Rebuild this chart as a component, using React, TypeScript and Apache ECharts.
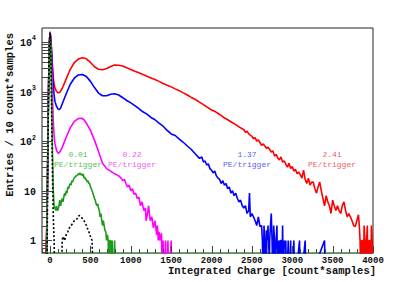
import React, { useEffect, useRef } from "react";
import * as echarts from "echarts";

// empty bin (plotted below the axis floor, so it is clipped like a zero bin in ROOT)
const E = 0.1;

const X_MIN = -100;
const X_MAX = 4000;
const Y_MIN = 0.56;
const Y_MAX = 19000;

const xTickLabels = [0, 500, 1000, 1500, 2000, 2500, 3000, 3500, 4000];
const yTickLabels = [1, 10, 100, 1000, 10000];

const redData: number[][] = [
  [-100, E], [-60, E], [-50, 1], [-40, 2], [-30, 40], [-20, 900], [-10, 9000], [0, 16000], [10, 12000], [20, 6500],
  [30, 3200], [40, 1900], [50, 1400], [60, 1180], [80, 1000], [100, 940], [120, 960], [150, 1150], [200, 1800],
  [250, 2800], [300, 3800], [350, 4500], [400, 4800], [450, 4550], [500, 3850], [550, 3150], [600, 2800], [650, 2750],
  [700, 2900], [750, 3200], [800, 3400], [850, 3380], [900, 3250], [950, 3000], [1000, 2780], [1050, 2560],
  [1100, 2380], [1150, 2200], [1200, 2020], [1250, 1880], [1300, 1750], [1350, 1600], [1400, 1450], [1450, 1340],
  [1500, 1240], [1550, 1130], [1600, 1040], [1650, 940], [1700, 850], [1750, 760], [1800, 690], [1850, 610],
  [1900, 545], [1950, 480], [2000, 425], [2050, 390], [2100, 345], [2150, 300], [2200, 270], [2250, 240],
  [2300, 215], [2350, 190], [2400, 170], [2420, 150], [2440, 160], [2460, 140], [2480, 132], [2500, 125],
  [2520, 112], [2540, 118], [2560, 100], [2580, 106], [2600, 94], [2620, 82], [2640, 88], [2660, 80], [2680, 72],
  [2700, 76], [2720, 68], [2740, 60], [2760, 64], [2780, 50], [2800, 54], [2820, 46], [2840, 42], [2860, 48],
  [2880, 38], [2900, 40], [2920, 34], [2940, 30], [2960, 36], [2980, 28], [3000, 31], [3020, 25], [3040, 27],
  [3060, 22], [3080, 24], [3100, 21], [3120, 18], [3140, 26], [3160, 17], [3180, 14], [3200, 18], [3220, 13],
  [3240, 15], [3260, 15], [3280, 11], [3300, 9], [3320, 12], [3340, 15], [3360, 10], [3380, 7], [3400, 5],
  [3420, 8], [3440, 6], [3460, 5], [3480, 3.5], [3500, 6.5], [3520, 5], [3540, 4], [3560, 5], [3580, 4],
  [3600, 3.5], [3620, 5], [3640, 6], [3660, 4], [3680, 3], [3700, 3.5], [3720, 3], [3740, 2.5], [3760, 2],
  [3780, 1.9], [3800, 2.5], [3820, 3.3], [3830, 2], [3840, 1], [3850, E], [3860, 1], [3870, 1], [3880, E],
  [3890, 2], [3900, 1], [3910, E], [3920, 1], [3930, 2], [3940, E], [3950, 1], [3960, 1], [3970, E], [3980, 2],
  [3990, 1], [4000, E],
];

const blueData: number[][] = [
  [-100, E], [-50, E], [-40, 1], [-30, 30], [-20, 800], [-10, 8500], [0, 15500], [10, 11000], [20, 5500],
  [30, 2500], [40, 1300], [50, 850], [60, 640], [80, 500], [100, 440], [115, 435], [130, 460], [150, 560],
  [200, 900], [250, 1400], [300, 1850], [350, 2150], [400, 2200], [450, 2000], [500, 1600], [550, 1200],
  [600, 930], [650, 820], [700, 820], [750, 880], [800, 900], [850, 850], [900, 750], [950, 660], [1000, 590],
  [1050, 520], [1100, 450], [1150, 390], [1200, 350], [1250, 300], [1300, 270], [1350, 230], [1400, 200],
  [1450, 165], [1500, 140], [1550, 130], [1600, 110], [1650, 95], [1700, 80], [1750, 68], [1800, 55],
  [1850, 45], [1880, 48], [1900, 38], [1920, 40], [1940, 33], [1960, 35], [1980, 28], [2000, 26], [2020, 23],
  [2040, 25], [2060, 20], [2080, 18], [2100, 17], [2120, 14], [2140, 16], [2160, 13], [2180, 14], [2200, 11],
  [2220, 12], [2240, 9], [2260, 10], [2280, 8], [2300, 9], [2320, 7], [2340, 6], [2360, 6.5], [2380, 5],
  [2400, 4.5], [2420, 5], [2440, 3.5], [2460, 4], [2470, 9], [2480, 3], [2500, 3.5], [2520, 3], [2540, 2.5],
  [2560, 2], [2580, 3], [2600, 1.9], [2620, 2], [2630, 1], [2640, E], [2650, 2], [2660, 1], [2670, E],
  [2680, 1.6], [2690, 1], [2700, 2], [2710, E], [2720, 1], [2730, 2], [2740, 3.5], [2750, 1], [2760, E],
  [2770, 2], [2780, 1], [2790, E], [2800, 1], [2810, 2], [2820, E], [2830, 1], [2840, E], [2850, 1], [2860, 1],
  [2870, E], [2880, 2], [2890, E], [2900, 1], [2910, E], [2920, 1], [2930, E], [2950, 1], [2960, E], [2980, 1],
  [2990, E], [3020, 1], [3030, E], [3090, 1], [3100, E], [3160, 1], [3170, E], [3400, 1], [3410, E], [4000, E],
];

const magentaData: number[][] = [
  [-100, E], [-50, E], [-40, 1], [-30, 30], [-20, 900], [-10, 9000], [0, 15500], [10, 9000], [20, 3000],
  [30, 800], [40, 250], [50, 130], [60, 90], [80, 65], [100, 57], [120, 60], [150, 75], [200, 120], [250, 185],
  [300, 250], [350, 285], [390, 290], [420, 270], [450, 230], [500, 165], [550, 105], [600, 62], [650, 36],
  [700, 28], [750, 25], [800, 22], [850, 20], [880, 18], [900, 16], [920, 17], [940, 14], [960, 12], [980, 13],
  [1000, 10], [1020, 11], [1040, 8.5], [1060, 9], [1080, 7], [1100, 7.5], [1120, 5], [1140, 6], [1160, 4],
  [1180, 4.5], [1190, 2.5], [1200, 3], [1220, 5], [1240, 2.5], [1260, 3], [1280, 1.8], [1300, 2.5], [1320, 1.3],
  [1330, 2], [1340, 1], [1350, 1.5], [1360, 1], [1380, 1.4], [1390, E], [1400, 1], [1410, E], [1430, 1],
  [1440, E], [1460, 1], [1470, E], [1500, 1], [1510, E], [4000, E],
];

const greenData: number[][] = [
  [-100, E], [-50, E], [-40, 1], [-30, 30], [-20, 800], [-10, 9000], [0, 15000], [10, 6000], [20, 800],
  [30, 60], [40, 10], [50, 5], [60, 4.5], [70, 4], [80, 5], [90, 4], [100, 4.2], [110, 5], [120, 6.5], [130, 5],
  [140, 6], [150, 7], [160, 6], [170, 7.5], [180, 9], [190, 8], [200, 10], [210, 9], [220, 12], [230, 11],
  [240, 13], [250, 14], [260, 13], [270, 16], [280, 15], [290, 17], [300, 18], [310, 19], [320, 20], [330, 20],
  [340, 21], [350, 22], [360, 21], [370, 23], [380, 21], [390, 22], [400, 20], [410, 22], [420, 18], [430, 19],
  [440, 17], [450, 17], [460, 15], [470, 16], [480, 14], [490, 14], [500, 12], [510, 11], [520, 10], [530, 9],
  [540, 8], [550, 7], [560, 6.5], [570, 5.5], [580, 5], [590, 5.5], [600, 4.5], [610, 4], [620, 3], [630, 3.5],
  [640, 2.5], [650, 2], [660, 2.5], [670, 2], [680, 1.6], [690, 1.5], [700, 1], [710, 1.3], [720, 1], [730, E],
  [740, 1], [750, 1], [760, E], [770, 1], [780, E], [800, 1], [810, E], [4000, E],
];

const blackData: number[][] = [
  [-100, E], [-40, E], [-30, 20], [-20, 800], [-10, 8000], [0, 15000], [10, 5000], [20, 300], [30, 20],
  [40, 3], [50, 1], [60, E], [140, E], [150, 1], [160, 1.2], [180, 1], [200, 1.3], [220, 1.5], [240, 1.8],
  [260, 2], [280, 2.2], [300, 2.5], [320, 2.6], [340, 2.8], [360, 3.2], [380, 3], [400, 2.8], [420, 2.5],
  [440, 2.2], [460, 1.8], [480, 1.5], [500, 1.2], [520, 1], [540, E], [4000, E],
];

const annotations = [
  { rate: "0.01", color: "#55c255", x: 78 },
  { rate: "0.22", color: "#f060f0", x: 132 },
  { rate: "1.37", color: "#6060f0", x: 247 },
  { rate: "2.41", color: "#f06060", x: 332 },
];

const MONO = "'Liberation Mono', 'DejaVu Sans Mono', monospace";

function buildXTicks(): number[][] {
  const out: number[][] = [];
  for (let v = X_MIN; v <= X_MAX; v += 100) {
    out.push([v, 1, v % 500 === 0 ? 7 : 4]);
  }
  return out;
}

function buildYTicks(): number[][] {
  const out: number[][] = [];
  for (let p = -1; p <= 4; p++) {
    for (let m = 1; m <= 9; m++) {
      const v = m * Math.pow(10, p);
      if (v >= Y_MIN && v <= Y_MAX) out.push([X_MIN, v, m === 1 ? 10 : 6]);
    }
  }
  return out;
}

function isPow10(v: number): boolean {
  const l = Math.log10(v);
  return Math.abs(l - Math.round(l)) < 1e-6;
}

export default function App() {
  const ref = useRef<HTMLDivElement>(null);

  useEffect(() => {
    if (!ref.current) return;
    const chart = echarts.init(ref.current, undefined, { renderer: "svg" });

    const lineSeries = (name: string, data: number[][], color: string, type: any = "solid", z = 2) => ({
      name,
      type: "line",
      data,
      showSymbol: false,
      symbol: "none",
      clip: true,
      z,
      lineStyle: { color, width: 1.6, type },
      silent: true,
    });

    const option: any = {
      animation: false,
      backgroundColor: "#ffffff",
      grid: {
        left: 42,
        right: 42,
        top: 28,
        bottom: 29,
        show: true,
        borderColor: "#222",
        borderWidth: 1,
        backgroundColor: "transparent",
      },
      xAxis: {
        type: "value",
        min: X_MIN,
        max: X_MAX,
        interval: 100,
        axisLine: { show: true, onZero: false, lineStyle: { color: "#33aa33", type: "dotted", width: 1 } },
        axisTick: { show: false },
        splitLine: { show: false },
        axisLabel: {
          margin: 3,
          color: "#111",
          fontFamily: MONO,
          fontWeight: "bold",
          fontSize: 9,
          showMinLabel: true,
          showMaxLabel: true,
          formatter: (v: number) => (xTickLabels.indexOf(v) >= 0 ? String(v) : ""),
        },
      },
      yAxis: {
        type: "log",
        logBase: 10,
        min: Y_MIN,
        max: Y_MAX,
        axisLine: { show: false },
        axisTick: { show: false },
        splitLine: { show: false },
        axisLabel: {
          margin: 6,
          color: "#111",
          fontFamily: MONO,
          fontWeight: "bold",
          fontSize: 10,
          formatter: (v: number) => {
            if (!isPow10(v)) return "";
            const e = Math.round(Math.log10(v));
            const match = yTickLabels.find((t) => Math.round(Math.log10(t)) === e);
            if (match === undefined) return "";
            if (e === 0) return "{b|1}";
            if (e === 1) return "{b|10}";
            return `{b|10}{s|${e}}`;
          },
          rich: {
            b: { fontFamily: MONO, fontWeight: "bold", fontSize: 10, color: "#111", lineHeight: 13, verticalAlign: "bottom" },
            s: { fontFamily: MONO, fontWeight: "bold", fontSize: 6.5, color: "#111", lineHeight: 7, padding: [0, 0, 6, 0], verticalAlign: "bottom" },
          },
        },
      },
      series: [
        lineSeries("2.41 PE/trigger", redData, "#ff0000", "solid", 2),
        lineSeries("1.37 PE/trigger", blueData, "#0000ff", "solid", 3),
        lineSeries("0.22 PE/trigger", magentaData, "#ff00ff", "solid", 4),
        lineSeries("0.01 PE/trigger", greenData, "#1f9a1f", "solid", 5),
        lineSeries("no light", blackData, "#000000", [2, 2], 6),
        {
          type: "custom",
          name: "xticks",
          silent: true,
          z: 10,
          clip: false,
          data: buildXTicks(),
          encode: { x: 0, y: 1 },
          renderItem: (params: any, api: any) => {
            const cs = params.coordSys;
            const x = Math.round(api.coord([api.value(0), 1])[0]) + 0.5;
            const len = api.value(2);
            const bottom = cs.y + cs.height;
            return {
              type: "line",
              shape: { x1: x, y1: bottom, x2: x, y2: bottom - len },
              style: { stroke: "#444", lineWidth: 1 },
            };
          },
        },
        {
          type: "custom",
          name: "yticks",
          silent: true,
          z: 10,
          clip: false,
          data: buildYTicks(),
          encode: { x: 0, y: 1 },
          renderItem: (params: any, api: any) => {
            const cs = params.coordSys;
            const y = Math.round(api.coord([X_MIN, api.value(1)])[1]) + 0.5;
            const len = api.value(2);
            return {
              type: "line",
              shape: { x1: cs.x, y1: y, x2: cs.x + len, y2: y },
              style: { stroke: "#444", lineWidth: 1 },
            };
          },
        },
      ],
      graphic: [
        {
          type: "text",
          x: 376,
          y: 271,
          style: {
            text: "Integrated Charge [count*samples]",
            align: "right",
            verticalAlign: "middle",
            fontFamily: MONO,
            fontWeight: "bold",
            fontSize: 10.5,
            fill: "#111",
          },
        },
        {
          type: "text",
          x: 10,
          y: 33,
          rotation: Math.PI / 2,
          style: {
            text: "Entries / 10 count*samples",
            align: "right",
            verticalAlign: "middle",
            fontFamily: MONO,
            fontWeight: "bold",
            fontSize: 10.5,
            fill: "#111",
          },
        },
        ...annotations.map((a) => ({
          type: "text",
          x: a.x,
          y: 150,
          z: 20,
          style: {
            text: `${a.rate}\nPE/trigger`,
            align: "center",
            verticalAlign: "top",
            fontFamily: MONO,
            fontSize: 8,
            lineHeight: 9.5,
            fill: a.color,
          },
        })),
      ],
    };

    chart.setOption(option);
    return () => chart.dispose();
  }, []);

  return (
    <div
      ref={ref}
      style={{ position: "fixed", left: 0, top: 0, width: 415, height: 282, background: "#fff" }}
    />
  );
}
